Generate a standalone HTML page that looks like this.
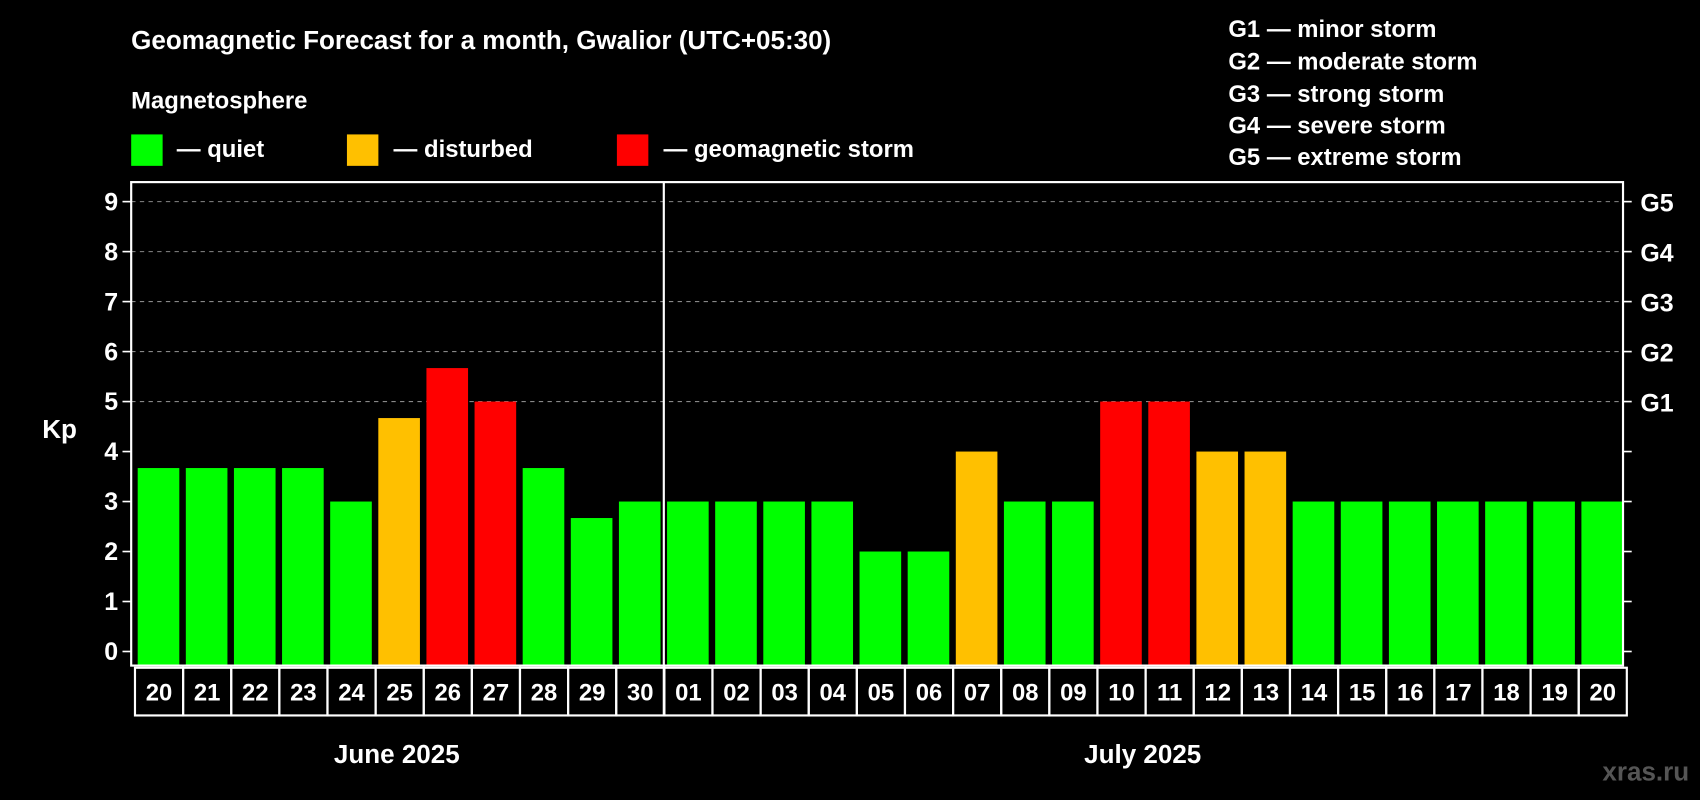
<!DOCTYPE html>
<html><head><meta charset="utf-8"><style>
html,body{margin:0;padding:0;background:#000;}
svg{display:block;}
text{font-family:"Liberation Sans",sans-serif;font-weight:bold;fill:#fff;}
</style></head><body>
<svg id="chart" width="1700" height="800" viewBox="0 0 1568 738" preserveAspectRatio="none">
<rect width="1568" height="738" fill="#000"/>
<text x="121" y="45" font-size="24">Geomagnetic Forecast for a month, Gwalior (UTC+05:30)</text>
<text x="121" y="100" font-size="22">Magnetosphere</text>
<g><rect x="121" y="124" width="29" height="29" fill="#00ff00"/><text x="163" y="145" font-size="22">— quiet</text></g>
<g><rect x="320" y="124" width="29" height="29" fill="#ffc000"/><text x="363" y="145" font-size="22">— disturbed</text></g>
<g><rect x="569" y="124" width="29" height="29" fill="#ff0000"/><text x="612" y="145" font-size="22">— geomagnetic storm</text></g>
<g font-size="22">
<text x="1133" y="34">G1 — minor storm</text>
<text x="1133" y="64">G2 — moderate storm</text>
<text x="1133" y="94">G3 — strong storm</text>
<text x="1133" y="123">G4 — severe storm</text>
<text x="1133" y="152">G5 — extreme storm</text>
</g>
<text x="39" y="404" font-size="24">Kp</text>
<g id="plot"></g>
<text x="366" y="704" font-size="24" text-anchor="middle">June 2025</text>
<text x="1054" y="704" font-size="24" text-anchor="middle">July 2025</text>
<text x="1558" y="720" font-size="24" text-anchor="end" style="fill:#555">xras.ru</text>
</svg>
<script>
const days = ["20","21","22","23","24","25","26","27","28","29","30","01","02","03","04","05","06","07","08","09","10","11","12","13","14","15","16","17","18","19","20"];
const kpValues = [3.67,3.67,3.67,3.67,3,4.67,5.67,5,3.67,2.67,3,3,3,3,3,2,2,4,3,3,5,5,4,4,3,3,3,3,3,3,3];
const yTicks = [0,1,2,3,4,5,6,7,8,9];
const gLabels = ["","","","","","G1","G2","G3","G4","G5"];
const monthSplitIndex = 11;

const NS="http://www.w3.org/2000/svg";
const g=document.getElementById('plot');
const L=121,R=1497,T=168,B=614,Y0=601,Y9=186;
const y=v=>Y0-(Y0-Y9)*v/9;
const pitch=(R-L)/days.length;
const x=i=>L+i*pitch;
function mk(tag,attrs){const e=document.createElementNS(NS,tag);for(const k in attrs)e.setAttribute(k,attrs[k]);g.appendChild(e);return e;}
yTicks.forEach((t,i)=>{
  if(t>=5){const gl=mk('line',{x1:L,x2:R,y1:y(t),y2:y(t),stroke:'#888','stroke-dasharray':'4,4','stroke-width':1});
  
  }
  const tl=mk('line',{x1:L-8,x2:L,y1:y(t),y2:y(t),stroke:'#fff','stroke-width':1.5});
  
  
  const tr=mk('line',{x1:R,x2:R+8,y1:y(t),y2:y(t),stroke:'#fff','stroke-width':1.5});
  
  
  const lb=mk('text',{x:L-12,y:y(t)+8,'font-size':23,'text-anchor':'end'});lb.textContent=t;
  
  
  if(gLabels[i]){const gt=mk('text',{x:R+16,y:y(t)+9,'font-size':23});gt.textContent=gLabels[i];
  
  }
});
kpValues.forEach((v,i)=>{
  const col=v>=5?'#ff0000':(v>=4?'#ffc000':'#00ff00');
  const b=mk('rect',{x:x(i)+6,y:y(v),width:pitch-6,height:B-y(v),fill:col});
  
  
  const c=mk('rect',{x:x(i)+3.5,y:B+2,width:pitch,height:44,fill:'none',stroke:'#fff','stroke-width':2});
  
  
  const d=mk('text',{x:x(i)+3.5+pitch/2,y:B+32,'font-size':22,'text-anchor':'middle'});d.textContent=days[i];
  
  
});
const fr=mk('rect',{x:L,y:T,width:R-L,height:B-T,fill:'none',stroke:'#fff','stroke-width':2});


const sp=mk('line',{x1:x(monthSplitIndex)+3,x2:x(monthSplitIndex)+3,y1:T,y2:B+46,stroke:'#fff','stroke-width':2});


</script>
</body></html>
